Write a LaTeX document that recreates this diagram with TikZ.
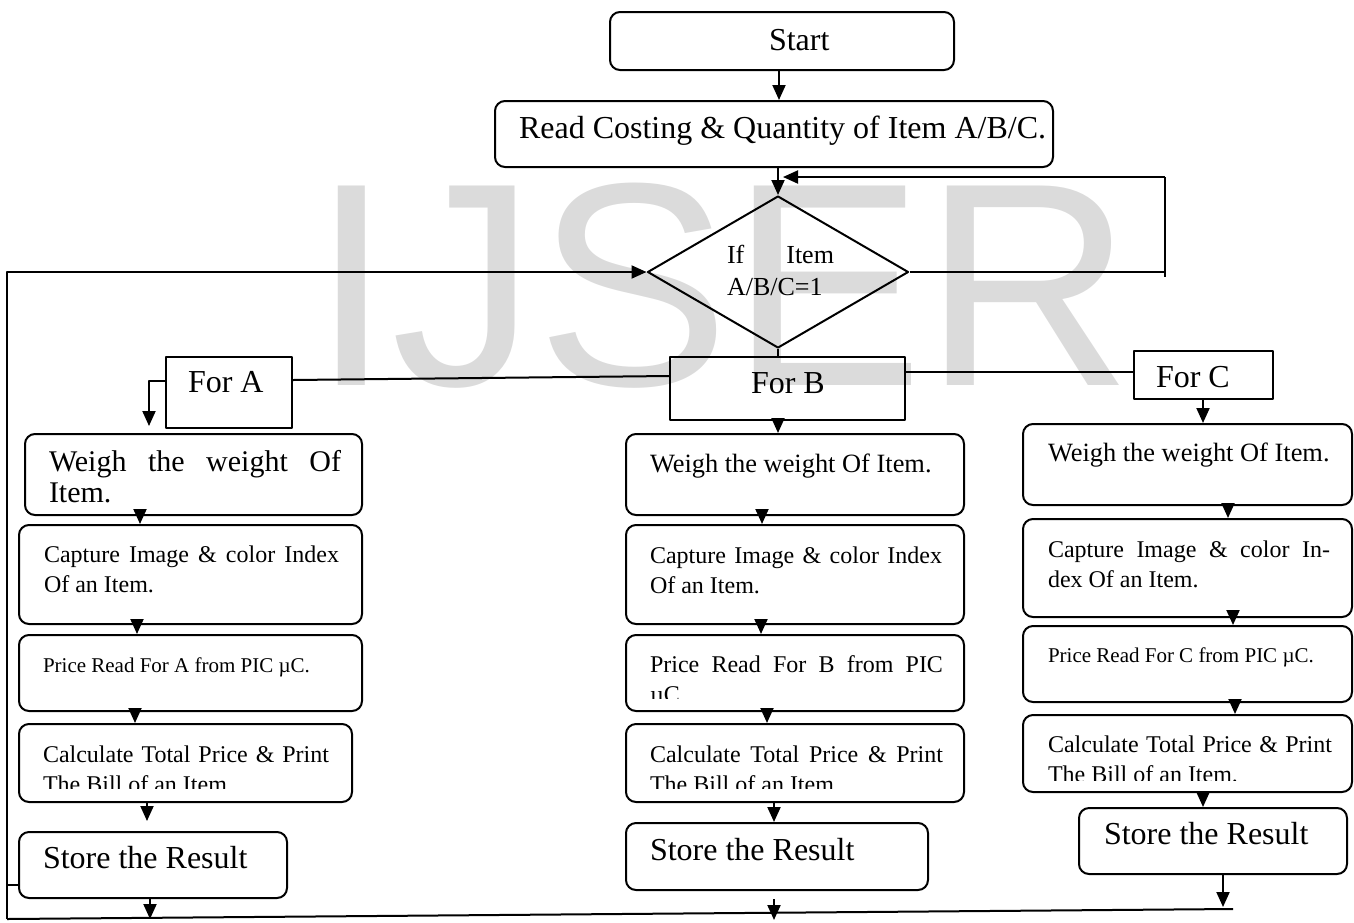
\documentclass[tikz,border=0pt]{standalone}
\usepackage{fontspec}
\setmainfont{Liberation Serif}
\newfontfamily\wmfont{Liberation Sans}
\usetikzlibrary{arrows.meta,shapes.geometric,fit}
\begin{document}
\begin{tikzpicture}[x=0.5pt,y=-0.5pt,>={Triangle[width=6.5pt,length=7.5pt]},
    line width=1pt, line join=round,
    blk/.style={draw,rounded corners=5pt,inner sep=0pt},
    sqr/.style={draw,inner sep=0pt},
    txt/.style={inner sep=0pt,anchor=base west},
    ptxt/.style={txt,align=justify,text width=#1}]
    \def\fbig{\fontsize{16}{19}\selectfont}
    \def\fwa{\fontsize{15}{15.5}\selectfont}
    \def\fwb{\fontsize{13.2}{15}\selectfont}
    \def\fmid{\fontsize{12}{15}\selectfont}
    \def\fsml{\fontsize{10.5}{13}\selectfont}
    \def\fdia{\fontsize{13}{16}\selectfont}
    \useasboundingbox (0,0) rectangle (1354,922);
    % watermark
    \node[text=black!14,anchor=base,inner sep=0pt,font=\wmfont\fontsize{145}{145}\selectfont] (wm) at (722,385) {IJSER};
    % start, read, test
    \node[blk,fit={(610,12) (954,70)}] (start) {};
    \node[txt,font=\fbig] (start-t) at (768,50) {Start};
    \node[blk,fit={(495,101) (1053,167)}] (read) {};
    \node[txt,font=\fbig] (read-t) at (518,138) {Read Costing \& Quantity of Item A/B/C.};
    \node[draw,diamond,minimum width=130.5pt,minimum height=76pt,inner sep=0pt] (dia) at (778,272) {};
    \node[ptxt=53.5pt,font=\fdia] (dia-t) at (726,263) {If Item\linebreak A/B/C=1};
    % branches
    \node[sqr,fit={(166,357) (292,428)}] (fa) {};
    \node[txt,font=\fbig] (fa-t) at (187,392) {For A};
    \node[sqr,fit={(670,357) (905,420)}] (fb) {};
    \node[txt,font=\fbig] (fb-t) at (750,393) {For B};
    \node[sqr,fit={(1134,351) (1273,399)}] (fc) {};
    \node[txt,font=\fbig] (fc-t) at (1155,387) {For C};
    % column A
    \node[blk,fit={(25,434) (362,515)}] (wa) {};
    \node[ptxt=146pt,font=\fwa] (wa-t) at (48,471) {Weigh the weight Of\linebreak Item.};
    \node[blk,fit={(19,525) (362,624)}] (ca) {};
    \node[ptxt=147.5pt,font=\fmid] (ca-t) at (43,562) {Capture Image \& color Index Of an Item.};
    \node[blk,fit={(19,635) (362,711)}] (pa) {};
    \node[txt,font=\fsml] (pa-t) at (42,672) {Price Read For A from PIC µC.};
    \node[blk,fit={(19,724) (352,802)}] (qa) {};
    \begin{scope}
        \clip (19,724) rectangle (352,788);
        \node[ptxt=143pt,font=\fmid] (qa-t) at (42,762) {Calculate Total Price \& Print The Bill of an Item.};
    \end{scope}
    \node[blk,fit={(19,832) (287,898)}] (sa) {};
    \node[txt,font=\fbig] (sa-t) at (42,868) {Store the Result};
    % column B
    \node[blk,fit={(626,434) (964,515)}] (wb) {};
    \node[txt,font=\fwb] (wb-t) at (649,472) {Weigh the weight Of Item.};
    \node[blk,fit={(626,525) (964,624)}] (cb) {};
    \node[ptxt=146pt,font=\fmid] (cb-t) at (649,563) {Capture Image \& color Index Of an Item.};
    \node[blk,fit={(626,635) (964,711)}] (pb) {};
    \begin{scope}
        \clip (626,635) rectangle (964,698);
        \node[ptxt=146.5pt,font=\fmid] (pb-t) at (649,672) {Price Read For B from PIC\linebreak µC.};
    \end{scope}
    \node[blk,fit={(626,724) (964,802)}] (qb) {};
    \begin{scope}
        \clip (626,724) rectangle (964,788);
        \node[ptxt=146.5pt,font=\fmid] (qb-t) at (649,762) {Calculate Total Price \& Print The Bill of an Item.};
    \end{scope}
    \node[blk,fit={(626,823) (928,890)}] (sb) {};
    \node[txt,font=\fbig] (sb-t) at (649,860) {Store the Result};
    % column C
    \node[blk,fit={(1023,424) (1352,505)}] (wc) {};
    \node[txt,font=\fwb] (wc-t) at (1047,461) {Weigh the weight Of Item.};
    \node[blk,fit={(1023,519) (1352,617)}] (cc) {};
    \node[ptxt=141pt,font=\fmid] (cc-t) at (1047,557) {Capture Image \& color In-\linebreak dex Of an Item.};
    \node[blk,fit={(1023,626) (1352,702)}] (pc) {};
    \node[txt,font=\fsml] (pc-t) at (1047,662) {Price Read For C from PIC µC.};
    \node[blk,fit={(1023,715) (1352,792)}] (qc) {};
    \begin{scope}
        \clip (1023,715) rectangle (1352,780);
        \node[ptxt=142pt,font=\fmid] (qc-t) at (1047,752) {Calculate Total Price \& Print The Bill of an Item.};
    \end{scope}
    \node[blk,fit={(1079,808) (1347,874)}] (sc) {};
    \node[txt,font=\fbig] (sc-t) at (1103,844) {Store the Result};
    % free ends
    \coordinate (rt) at (1165,177);
    \coordinate (rb) at (1165,277);
    \coordinate (lb) at (7,919);
    \coordinate (br) at (1233,909);
    \coordinate (ea) at (150,919);
    \coordinate (eb) at (774,920);
    \coordinate (ec) at (1223,907);
    % connectors
    \draw[->] (start.south -| 779,0) -- (read.north -| 779,0);
    \draw[->] (dia.north |- read.south) -- (dia.north);
    \draw (dia.east) -- (dia.east -| rt);
    \draw (rt) -- (rb);
    \draw[->,shorten >=2.5pt] (rt) -- (dia.north |- rt);
    \draw[->] (lb) |- (dia.west);
    \draw (dia.south) -- (fb.north -| dia.south);
    \draw (fa.east |- 0,380) -- (fb.west |- 0,376);
    \draw (fb.east |- 0,372) -- (fc.west |- 0,372);
    \draw[->,shorten >=3.5pt] (fa.west |- 0,381) -| (wa.north -| 149,0);
    \draw[->] (fb.south -| 778,0) -- (wb.north -| 778,0);
    \draw[->] (fc.south -| 1203,0) -- (wc.north -| 1203,0);
    \foreach \a/\b/\x in {wa/ca/140,ca/pa/137,pa/qa/135,
                          wb/cb/762,cb/pb/761,pb/qb/767,qb/sb/774,
                          wc/cc/1228,cc/pc/1233,pc/qc/1235,qc/sc/1203}
        \draw[->] (\a.south -| \x,0) -- (\b.north -| \x,0);
    \draw[->,shorten >=5pt] (qa.south -| 147,0) -- (sa.north -| 147,0);
    \draw (sa.west |- 0,885) -- (lb |- 0,885);
    \draw (lb) -- (br);
    \draw[->] (sa.south -| ea) -- (ea);
    \draw[->,shorten <=4pt] (sb.south -| eb) -- (eb);
    \draw[->] (sc.south -| ec) -- (ec);
\end{tikzpicture}
\end{document}
